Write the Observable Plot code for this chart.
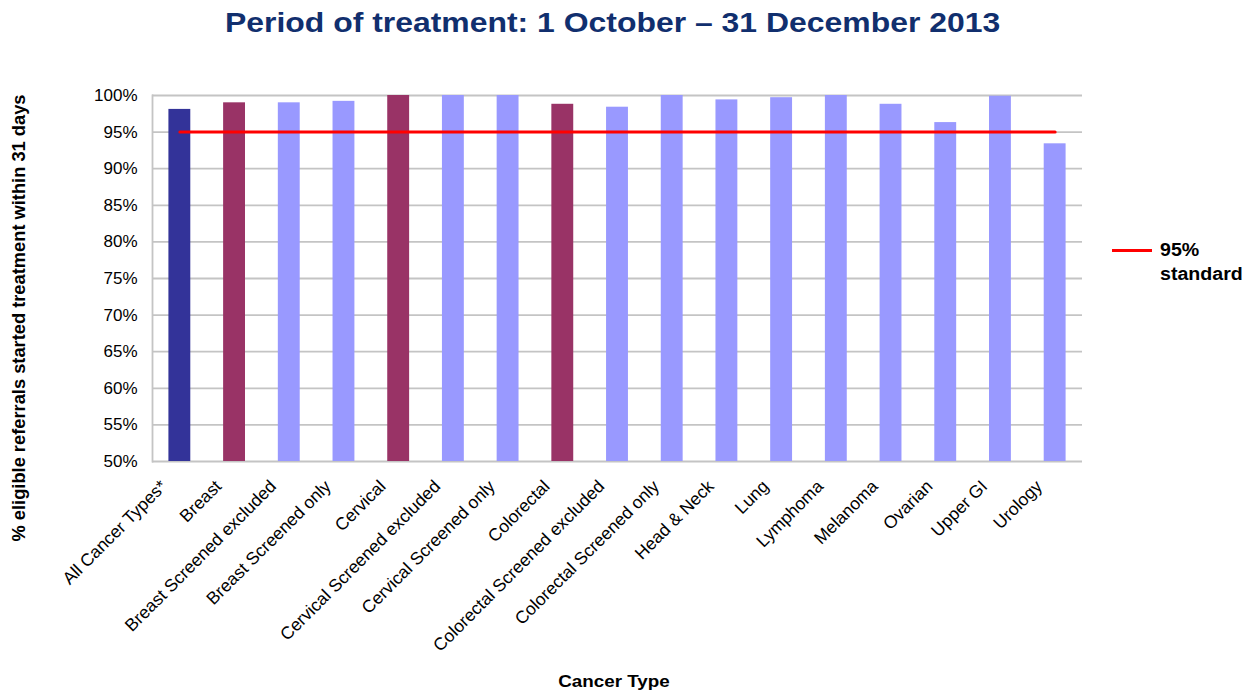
<!DOCTYPE html>
<html>
<head>
<meta charset="utf-8">
<script src="https://cdn.jsdelivr.net/npm/d3@7"></script>
<script src="https://cdn.jsdelivr.net/npm/@observablehq/plot@0.6"></script>
<style>
  body { margin: 0; background: #fff; font-family: "Liberation Sans", Arial, sans-serif; }
  #wrap { position: relative; width: 1255px; height: 695px; }
  #title { position: absolute; left: -15px; width: 1255px; top: 7px; text-align: center; font-weight: bold; font-size: 28px; color: #112F6E; transform: scaleX(1.14); transform-origin: 627px 0; white-space: nowrap; }
  #ylabel { position: absolute; left: 19px; top: 318px; transform: translate(-50%, -50%) rotate(-90deg); white-space: nowrap; font-weight: bold; font-size: 18.3px; color: #000; }
  #xlabel { position: absolute; left: 614px; top: 672px; transform: translateX(-50%) scaleX(1.14); font-weight: bold; font-size: 16.5px; color: #000; }
  #legend { position: absolute; left: 1112px; top: 238px; }
  #legend .sw { position: absolute; left: 0; top: 11px; width: 40px; height: 3px; background: #FF0000; }
  #legend .tx { position: absolute; left: 48px; top: 0; white-space: nowrap; font-weight: bold; font-size: 17.5px; line-height: 24px; color: #000; transform: scaleX(1.12); transform-origin: 0 0; }
  #chart { position: absolute; left: 0; top: 0; }
</style>
</head>
<body>
<div id="wrap">
  <div id="chart"></div>
  <div id="title">Period of treatment: 1 October – 31 December 2013</div>
  <div id="ylabel">% eligible referrals started treatment within 31 days</div>
  <div id="xlabel">Cancer Type</div>
  <div id="legend"><div class="sw"></div><div class="tx">95%<br>standard</div></div>
</div>
<script>
const categories = ["All Cancer Types*", "Breast", "Breast Screened excluded", "Breast Screened only", "Cervical", "Cervical Screened excluded", "Cervical Screened only", "Colorectal", "Colorectal Screened excluded", "Colorectal Screened only", "Head & Neck", "Lung", "Lymphoma", "Melanoma", "Ovarian", "Upper GI", "Urology"];
const values = [98.1, 99.0, 99.0, 99.2, 100, 100, 100, 98.8, 98.4, 100, 99.4, 99.7, 100, 98.8, 96.3, 99.9, 93.4];
const groups = ["all", "main", "sub", "sub", "main", "sub", "sub", "main", "sub", "sub", "sub", "sub", "sub", "sub", "sub", "sub", "sub"];
const standard = 95;
const yTicks = [50, 55, 60, 65, 70, 75, 80, 85, 90, 95, 100];

const data = categories.map((c, i) => ({category: c, value: values[i], group: groups[i]}));
const colorMap = {all: "#333399", main: "#993366", sub: "#9999FF"};

const chart = Plot.plot({
  width: 1255,
  height: 695,
  marginTop: 95,
  marginBottom: 234,
  marginLeft: 152,
  marginRight: 173,
  style: {fontFamily: "'Liberation Sans', Arial, sans-serif", fontSize: "17px", color: "#000", background: "transparent"},
  x: {domain: categories, paddingInner: 0.6, paddingOuter: 0.3, round: false, label: null},
  y: {domain: [50, 100], label: null},
  marks: [
    Plot.ruleY(yTicks, {stroke: "#c4c4c4", strokeWidth: 1.8}),
    Plot.frame({anchor: "left", stroke: "#c4c4c4", strokeWidth: 1.8}),
    Plot.barY(data, {x: "category", y1: 50, y2: "value", fill: d => colorMap[d.group]}),
    Plot.lineY([categories[0], categories[categories.length - 1]], {x: d => d, y: () => standard, stroke: "#FF0000", strokeWidth: 3}),
    Plot.axisY({ticks: yTicks, tickFormat: d => d + "%", tickSize: 0, tickPadding: 15, fontSize: 17, label: null}),
    Plot.axisX({tickSize: 0, tickPadding: 22, dx: -16, tickRotate: -45, fontSize: 17.5, label: null})
  ]
});
document.getElementById("chart").appendChild(chart);
</script>
</body>
</html>
